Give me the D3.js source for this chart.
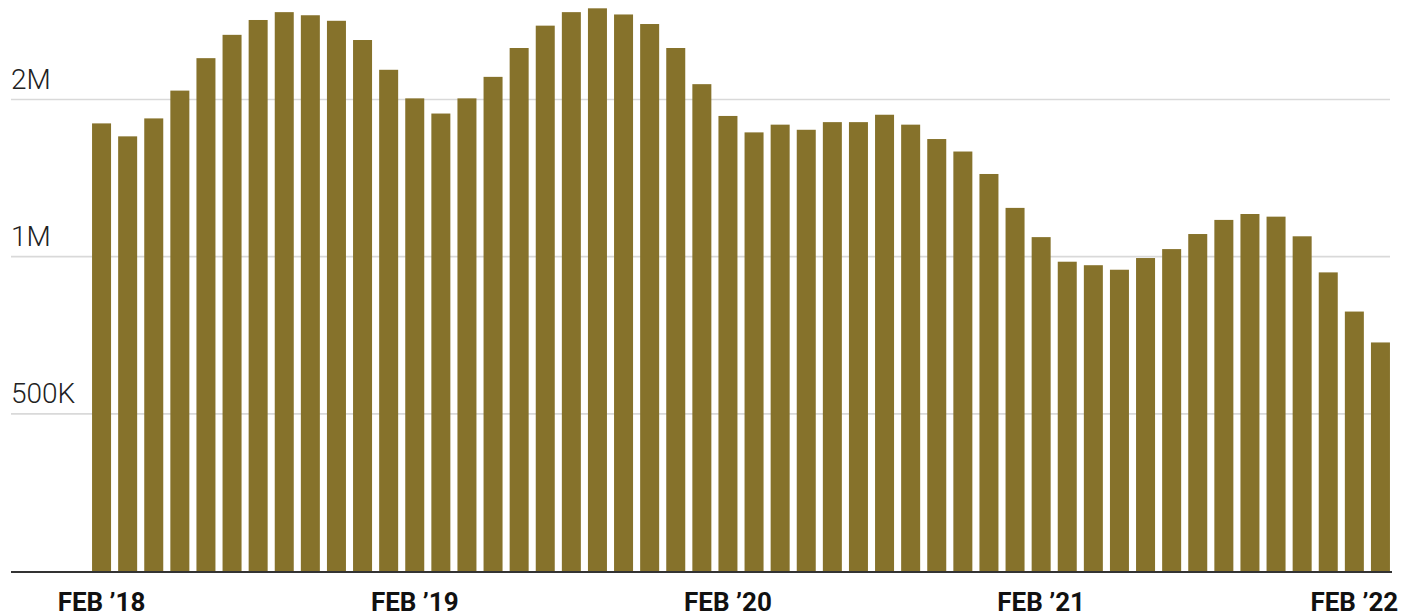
<!DOCTYPE html>
<html>
<head>
<meta charset="utf-8">
<script src="https://cdn.jsdelivr.net/npm/d3@7"></script>
<style>
  html, body { margin: 0; padding: 0; background: #ffffff; }
  svg { display: block; }
</style>
</head>
<body>
<svg id="chart" width="1418" height="616"></svg>
<script>
// Monthly values, Feb 2018 – Mar 2022
const months = [
  "2018-02","2018-03","2018-04","2018-05","2018-06","2018-07","2018-08","2018-09","2018-10","2018-11","2018-12",
  "2019-01","2019-02","2019-03","2019-04","2019-05","2019-06","2019-07","2019-08","2019-09","2019-10","2019-11","2019-12",
  "2020-01","2020-02","2020-03","2020-04","2020-05","2020-06","2020-07","2020-08","2020-09","2020-10","2020-11","2020-12",
  "2021-01","2021-02","2021-03","2021-04","2021-05","2021-06","2021-07","2021-08","2021-09","2021-10","2021-11","2021-12",
  "2022-01","2022-02","2022-03"
];
const values = [
  1800000, 1700000, 1840000, 2080000, 2400000, 2660000, 2840000, 2940000, 2900000, 2830000, 2600000,
  2280000, 2010000, 1880000, 2010000, 2210000, 2510000, 2770000, 2940000, 2990000, 2910000, 2790000, 2510000,
  2140000, 1860000, 1730000, 1790000, 1750000, 1810000, 1810000, 1870000, 1790000, 1680000, 1590000, 1440000,
  1240000, 1090000, 978000, 963000, 944000, 994000, 1034000, 1105000, 1176000, 1207000, 1193000, 1094000,
  933000, 785000, 685000
];
const yTickValues = [500000, 1000000, 2000000];
const yTickLabels = ["500K", "1M", "2M"];
const xTickMonths = ["2018-02", "2019-02", "2020-02", "2021-02", "2022-02"];
const xTickLabels = ["FEB \u201918", "FEB \u201919", "FEB \u201920", "FEB \u201921", "FEB \u201922"];

const svg = d3.select("#chart");
const W = 1418, H = 616;
const gridLeft = 11, gridRight = 1390;
const baseY = 571;

const x = d3.scaleBand()
  .domain(months)
  .range([88.5, 1393.5])
  .paddingInner(0.272)
  .paddingOuter(0.136);

const y = d3.scaleLog()
  .domain([250000, 2000000])
  .range([baseY, 99.5]);

// gridlines
const grid = svg.append("g").attr("class", "grid");
grid.selectAll("line")
  .data(yTickValues)
  .join("line")
  .attr("x1", gridLeft)
  .attr("x2", gridRight)
  .attr("y1", d => y(d))
  .attr("y2", d => y(d))
  .attr("stroke", "#d9d9d9")
  .attr("stroke-width", 1.6);

// y labels
svg.append("g").selectAll("text")
  .data(yTickValues)
  .join("text")
  .attr("x", gridLeft)
  .attr("y", d => y(d) - 11)
  .attr("font-family", "Roboto, 'Liberation Sans', sans-serif")
  .attr("font-weight", 300)
  .attr("font-size", 28)
  .attr("fill", "#222")
  .text((d, i) => yTickLabels[i]);

// bars
svg.append("g").selectAll("rect")
  .data(values)
  .join("rect")
  .attr("x", (d, i) => x(months[i]))
  .attr("width", x.bandwidth())
  .attr("y", d => y(d))
  .attr("height", d => baseY - y(d))
  .attr("fill", "#86722b");

// baseline axis
svg.append("line")
  .attr("x1", gridLeft)
  .attr("x2", 1392)
  .attr("y1", baseY + 1)
  .attr("y2", baseY + 1)
  .attr("stroke", "#333")
  .attr("stroke-width", 2);

// x labels
svg.append("g").selectAll("text")
  .data(xTickMonths)
  .join("text")
  .attr("x", d => x(d) + x.bandwidth() / 2)
  .attr("y", 611)
  .attr("text-anchor", "middle")
  .attr("font-family", "Roboto, 'Liberation Sans', sans-serif")
  .attr("font-weight", 700)
  .attr("font-size", 26)
  .attr("fill", "#111")
  .text((d, i) => xTickLabels[i]);
</script>
</body>
</html>
